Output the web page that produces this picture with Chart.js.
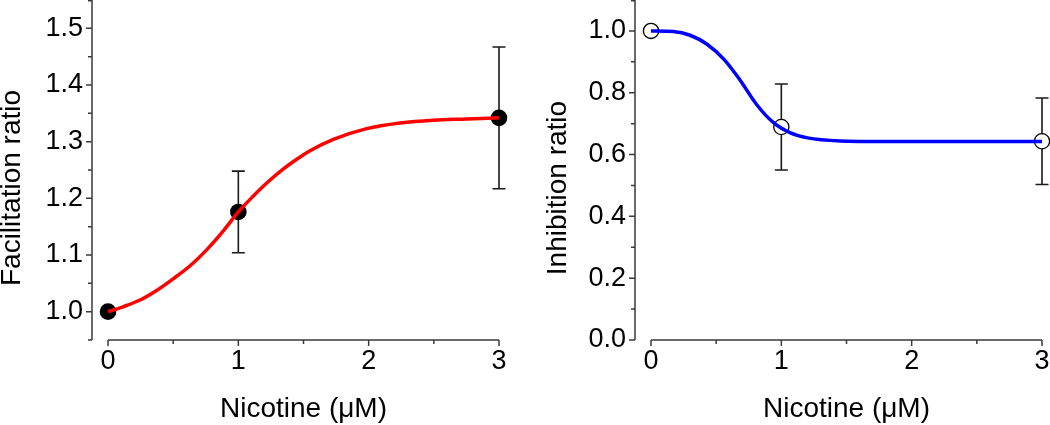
<!DOCTYPE html>
<html>
<head>
<meta charset="utf-8">
<script src="https://cdn.jsdelivr.net/npm/chart.js@4"></script>
<style>
  body { margin: 0; background: #fff; }
  .panel { position: absolute; top: 0; width: 525px; height: 425px; }
  #left { left: 0; }
  #right { left: 525px; }
</style>
</head>
<body>
<div class="panel" id="left"><canvas id="facilitation"></canvas></div>
<div class="panel" id="right"><canvas id="inhibition"></canvas></div>
<script>
// nicotine concentrations (uM) and measured means / errors
const nicotine = [0, 1, 3];
const facilitation = [1.0, 1.176, 1.342];
const facilitationErr = [0, 0.072, 0.125];
const inhibition = [1.0, 0.689, 0.643];
const inhibitionErr = [0, 0.139, 0.14];

// fitted curves
const facFitX = [0, 0.12, 0.25, 0.37, 0.5, 0.63, 0.76, 0.89, 1.0, 1.115, 1.218, 1.346, 1.474, 1.55, 1.729, 1.985, 2.241, 2.497, 2.753, 3.0];
const facFitY = [1.0, 1.009, 1.021, 1.037, 1.058, 1.081, 1.11, 1.144, 1.176, 1.204, 1.227, 1.252, 1.273, 1.284, 1.304, 1.323, 1.333, 1.338, 1.34, 1.342];
const inhFitX = [0, 0.17, 0.3, 0.43, 0.56, 0.68, 0.81, 0.94, 1.07, 1.2, 1.45, 1.8, 2.4, 3.0];
const inhFitY = [1.0, 0.998, 0.986, 0.957, 0.908, 0.843, 0.762, 0.703, 0.67, 0.654, 0.644, 0.642, 0.642, 0.642];

// tick labels
const xTicks = [0, 1, 2, 3];
const facTicks = [1.0, 1.1, 1.2, 1.3, 1.4, 1.5];
const inhTicks = [0.0, 0.2, 0.4, 0.6, 0.8, 1.0];

const FONT = 'Liberation Sans, Arial, sans-serif';

function xy(xs, ys) {
    return xs.map((x, i) => ({ x: x, y: ys[i] }));
}

// draws the detached Origin-style axes, minor ticks, error bars and y title
const axesPlugin = {
    id: 'axes',
    beforeDatasetsDraw(chart, args, opts) {
        const { ctx, chartArea } = chart;
        const xs = chart.scales.x;
        const ys = chart.scales.y;
        ctx.save();
        ctx.strokeStyle = '#3a3a3a';
        ctx.lineWidth = 1.5;

        // y axis, pulled a little to the left of the plot
        const ax = chartArea.left - 16;
        const yStep = ys.ticks[1].value - ys.ticks[0].value;
        ctx.beginPath();
        ctx.moveTo(ax, ys.getPixelForValue(ys.max));
        ctx.lineTo(ax, ys.getPixelForValue(ys.min));
        ys.ticks.forEach(t => {
            const py = ys.getPixelForValue(t.value);
            ctx.moveTo(ax, py);
            ctx.lineTo(ax - 6, py);
        });
        const yMinor = [ys.ticks[0].value - yStep / 2].concat(ys.ticks.map(t => t.value + yStep / 2));
        yMinor.filter(v => v >= ys.min - 1e-9 && v <= ys.max + 1e-9).forEach(v => {
            const py = Math.max(ys.getPixelForValue(v), 0.75);
            ctx.moveTo(ax, py);
            ctx.lineTo(ax - 4, py);
        });
        ctx.stroke();

        // x axis from the first to the last tick
        const ay = chartArea.bottom;
        const xStep = xs.ticks[1].value - xs.ticks[0].value;
        ctx.beginPath();
        ctx.moveTo(xs.getPixelForValue(xs.min), ay);
        ctx.lineTo(xs.getPixelForValue(xs.max), ay);
        xs.ticks.forEach(t => {
            const px = xs.getPixelForValue(t.value);
            ctx.moveTo(px, ay);
            ctx.lineTo(px, ay + 6);
        });
        xs.ticks.slice(0, -1).forEach(t => {
            const px = xs.getPixelForValue(t.value + xStep / 2);
            ctx.moveTo(px, ay);
            ctx.lineTo(px, ay + 4);
        });
        ctx.stroke();

        // error bars
        ctx.strokeStyle = '#1a1a1a';
        ctx.lineWidth = 1.6;
        ctx.beginPath();
        opts.means.forEach((m, i) => {
            const e = opts.errors[i];
            if (!e) return;
            const px = xs.getPixelForValue(opts.xs[i]);
            const top = ys.getPixelForValue(m + e);
            const bot = ys.getPixelForValue(m - e);
            ctx.moveTo(px, top);
            ctx.lineTo(px, bot);
            ctx.moveTo(px - 6.5, top);
            ctx.lineTo(px + 6.5, top);
            ctx.moveTo(px - 6.5, bot);
            ctx.lineTo(px + 6.5, bot);
        });
        ctx.stroke();
        ctx.restore();
    },
    afterDraw(chart, args, opts) {
        const ctx = chart.ctx;
        ctx.save();
        ctx.translate(opts.titleX, opts.titleY);
        ctx.rotate(-Math.PI / 2);
        ctx.font = '28px ' + FONT;
        ctx.fillStyle = '#000';
        ctx.textAlign = 'center';
        ctx.textBaseline = 'middle';
        ctx.fillText(opts.title, 0, 0);
        ctx.restore();
    }
};

function makeChart(id, cfg) {
    return new Chart(document.getElementById(id), {
        type: 'scatter',
        data: {
            datasets: [
                {
                    data: xy(cfg.fitX, cfg.fitY),
                    showLine: true,
                    borderColor: cfg.lineColor,
                    borderWidth: 3.5,
                    pointRadius: 0,
                    cubicInterpolationMode: 'monotone',
                    order: 0,
                    clip: false
                },
                {
                    data: xy(nicotine, cfg.means),
                    pointRadius: cfg.pointRadius,
                    backgroundColor: cfg.pointFill,
                    borderColor: '#000',
                    borderWidth: cfg.pointBorder,
                    order: 1,
                    clip: false
                }
            ]
        },
        options: {
            responsive: true,
            maintainAspectRatio: false,
            animation: false,
            events: [],
            layout: { autoPadding: false, padding: { left: 0, right: cfg.padRight, top: 0, bottom: 0 } },
            plugins: {
                legend: { display: false },
                tooltip: { enabled: false },
                axes: {
                    xs: nicotine,
                    means: cfg.means,
                    errors: cfg.errors,
                    title: cfg.yTitle,
                    titleX: cfg.titleX,
                    titleY: 188
                }
            },
            scales: {
                x: {
                    type: 'linear',
                    min: 0,
                    max: 3,
                    afterBuildTicks: s => { s.ticks = xTicks.map(v => ({ value: v })); },
                    afterFit: s => { s.height = 85; s.paddingLeft = 0; s.paddingRight = 0; },
                    grid: { display: false, drawTicks: false },
                    border: { display: false },
                    ticks: { color: '#000', padding: 5, font: { family: FONT, size: 27 } },
                    title: {
                        display: true,
                        text: 'Nicotine (\u03bcM)',
                        color: '#000',
                        padding: { top: 0, bottom: 0 },
                        font: { family: FONT, size: 28, lineHeight: 1.1 }
                    }
                },
                y: {
                    type: 'linear',
                    min: cfg.yMin,
                    max: cfg.yMax,
                    afterBuildTicks: s => { s.ticks = cfg.yTicks.map(v => ({ value: v })); },
                    afterFit: s => { s.width = cfg.yWidth; s.paddingTop = 0; s.paddingBottom = 0; },
                    grid: { display: false, drawTicks: false },
                    border: { display: false },
                    ticks: {
                        color: '#000',
                        padding: 25,
                        font: { family: FONT, size: 27 },
                        callback: v => v.toFixed(1)
                    }
                }
            }
        },
        plugins: [axesPlugin]
    });
}

makeChart('facilitation', {
    fitX: facFitX, fitY: facFitY, lineColor: '#ff0000',
    means: facilitation, errors: facilitationErr,
    pointRadius: 8.3, pointFill: '#000', pointBorder: 0,
    yMin: 0.95, yMax: 1.55, yTicks: facTicks, yWidth: 108, padRight: 26,
    yTitle: 'Facilitation ratio', titleX: 12.5
});

makeChart('inhibition', {
    fitX: inhFitX, fitY: inhFitY, lineColor: '#0000ff',
    means: inhibition, errors: inhibitionErr,
    pointRadius: 7.6, pointFill: '#fff', pointBorder: 1.3,
    yMin: 0, yMax: 1.1, yTicks: inhTicks, yWidth: 126, padRight: 8,
    yTitle: 'Inhibition ratio', titleX: 33
});
</script>
</body>
</html>
